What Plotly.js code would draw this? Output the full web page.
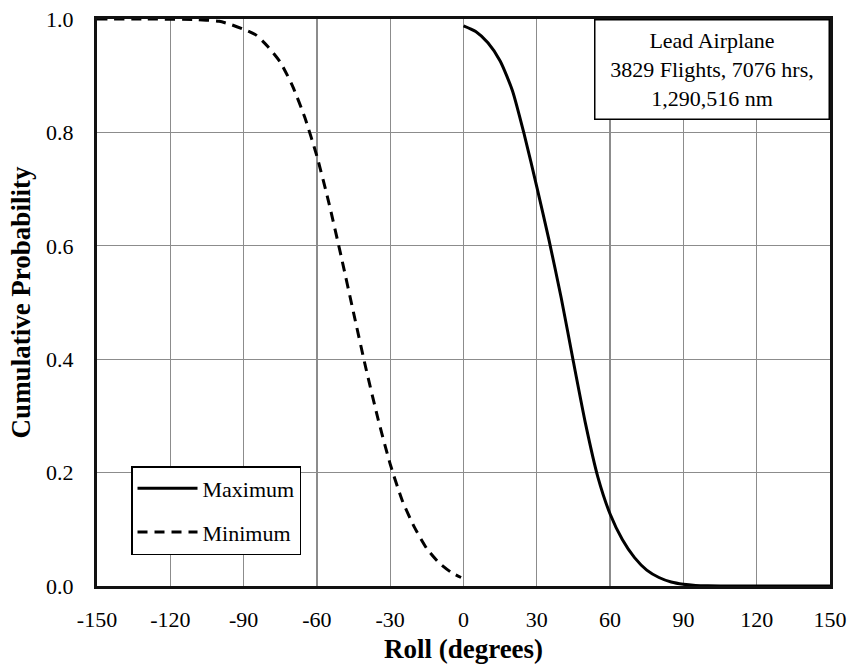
<!DOCTYPE html>
<html>
<head>
<meta charset="utf-8">
<script src="https://cdn.plot.ly/plotly-3.0.1.min.js"></script>
<style>
html,body{margin:0;padding:0;background:#fff;}
#chart{width:854px;height:668px;}
</style>
</head>
<body>
<div id="chart"></div>
<script>
// Maximum roll (solid)
const maxRoll = [0, 5, 10, 15, 20, 25, 30, 35, 40, 45, 50, 55, 60, 65, 70, 75, 80, 85, 90, 95, 100, 110, 120, 130, 140, 150];
const maxProb = [0.988, 0.978, 0.958, 0.926, 0.874, 0.794, 0.704, 0.610, 0.508, 0.395, 0.285, 0.192, 0.127, 0.082, 0.050, 0.028, 0.015, 0.007, 0.003, 0.001, 0.0003, 0, 0, 0, 0, 0];

// Minimum roll (dashed)
const minRoll = [-150, -130, -110, -100, -95, -90, -85, -80, -75, -70, -65, -60, -55, -50, -45, -40, -35, -30, -25, -20, -15, -10, -5, -1];
const minProb = [1.0, 1.0, 0.999, 0.996, 0.99, 0.982, 0.972, 0.951, 0.924, 0.882, 0.827, 0.758, 0.674, 0.580, 0.482, 0.385, 0.295, 0.215, 0.150, 0.103, 0.066, 0.041, 0.024, 0.015];

const xTicks = [-150, -120, -90, -60, -30, 0, 30, 60, 90, 120, 150];
const yTicks = [0, 0.2, 0.4, 0.6, 0.8, 1.0];
const yTickText = ['0.0', '0.2', '0.4', '0.6', '0.8', '1.0'];

const seriesNames = ['Maximum', 'Minimum'];
const noteText = 'Lead Airplane<br>3829 Flights, 7076 hrs,<br>1,290,516 nm';

const FONT = '"Liberation Serif", "Times New Roman", serif';

const traces = [
  {x: maxRoll, y: maxProb, name: seriesNames[0], mode: 'lines', type: 'scatter',
   line: {color: '#000', width: 3, shape: 'spline', smoothing: 0.6}, legendgroup: 'a'},
  {x: minRoll, y: minProb, name: seriesNames[1], mode: 'lines', type: 'scatter',
   line: {color: '#000', width: 3, dash: '10px,7px', shape: 'spline', smoothing: 0.6}, legendgroup: 'b'}
];

const layout = {
  width: 854, height: 668,
  margin: {l: 97, r: 24, t: 19, b: 82},
  paper_bgcolor: '#fff', plot_bgcolor: '#fff',
  font: {family: FONT, size: 22, color: '#000'},
  xaxis: {
    range: [-150, 150], tickvals: xTicks, ticktext: xTicks.map(String),
    showgrid: true, gridcolor: '#8c8c8c', gridwidth: 1.3,
    showline: true, linecolor: '#111', linewidth: 3, mirror: true,
    zeroline: false, ticks: '', ticklabelstandoff: 12,
    tickfont: {family: FONT, size: 22, color: '#000'},
    title: {text: 'Roll (degrees)', font: {family: FONT, size: 27, color: '#000', weight: 'bold'}, standoff: 8}
  },
  yaxis: {
    range: [0, 1], tickvals: yTicks, ticktext: yTickText,
    showgrid: true, gridcolor: '#8c8c8c', gridwidth: 1.3,
    showline: true, linecolor: '#111', linewidth: 3, mirror: true,
    zeroline: false, ticks: '', ticklabelstandoff: 16,
    tickfont: {family: FONT, size: 22, color: '#000'},
    title: {text: 'Cumulative Probability', font: {family: FONT, size: 27, color: '#000', weight: 'bold'}, standoff: 8}
  },
  showlegend: true,
  legend: {
    x: 0.0464, y: 0.2116, xanchor: 'left', yanchor: 'top',
    bgcolor: '#fff', bordercolor: '#000', borderwidth: 1.5,
    font: {family: FONT, size: 22, color: '#000'},
    traceorder: 'grouped', tracegroupgap: 12, itemwidth: 60
  },
  annotations: [{
    xref: 'paper', yref: 'paper', x: 1, y: 1, xanchor: 'right', yanchor: 'top',
    text: noteText, showarrow: false, align: 'center',
    font: {family: FONT, size: 22, color: '#000'},
    bgcolor: '#fff', bordercolor: '#000', borderwidth: 1.5, borderpad: 0,
    width: 233, height: 98
  }]
};

Plotly.newPlot('chart', traces, layout, {staticPlot: true, displayModeBar: false});
</script>
</body>
</html>
